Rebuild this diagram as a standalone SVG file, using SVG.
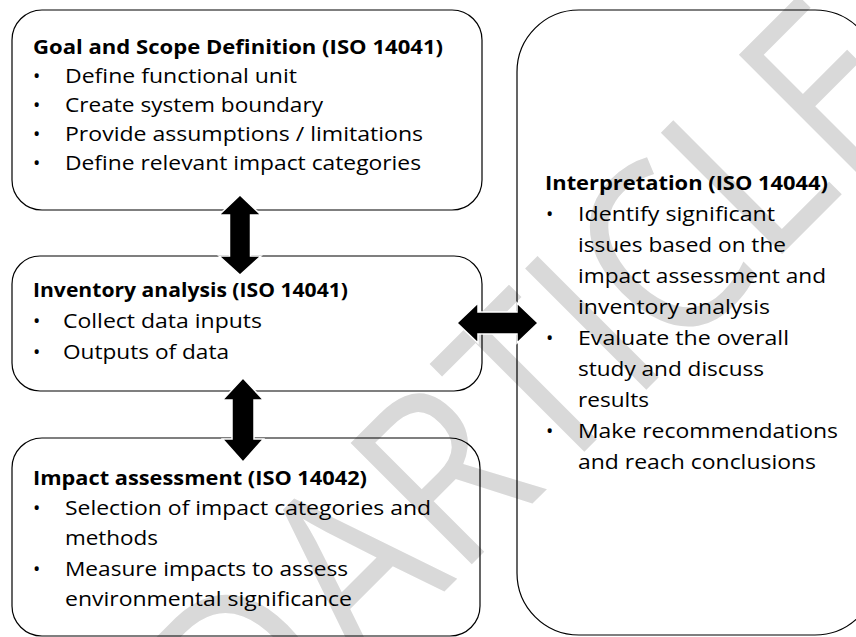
<svg xmlns="http://www.w3.org/2000/svg" width="856" height="637" viewBox="0 0 856 637">
<style>
.box{fill:none;stroke:#000;stroke-width:1.2}
.t{font-family:"Open Sans","Noto Sans",sans-serif;font-size:19.5px;fill:#000}
.b{font-weight:bold}
.arr{fill:#000;stroke:#fff;stroke-width:1.5}
.wm{font-family:"Open Sans","Noto Sans",sans-serif;font-size:240px;font-weight:500;fill:#d9d9d9;word-spacing:-55px}
</style>
<rect width="856" height="637" fill="#fff"/>
<g id="watermark">
<text class="wm" transform="translate(250,786) rotate(-45) scale(0.88,1)">D ARTICLE</text>
</g>
<g id="goal">
<rect class="box" x="12" y="10" width="470" height="200" rx="30"/>
<text class="t b" x="33" y="54" textLength="410" lengthAdjust="spacingAndGlyphs">Goal and Scope Definition (ISO 14041)</text>
<text class="t" x="33" y="83">•</text><text class="t" x="65" y="83" textLength="232" lengthAdjust="spacingAndGlyphs">Define functional unit</text>
<text class="t" x="33" y="112">•</text><text class="t" x="65" y="112" textLength="258" lengthAdjust="spacingAndGlyphs">Create system boundary</text>
<text class="t" x="33" y="141">•</text><text class="t" x="65" y="141" textLength="358" lengthAdjust="spacingAndGlyphs">Provide assumptions / limitations</text>
<text class="t" x="33" y="170">•</text><text class="t" x="65" y="170" textLength="356" lengthAdjust="spacingAndGlyphs">Define relevant impact categories</text>
</g>
<g id="inventory">
<rect class="box" x="12" y="256" width="470" height="135" rx="28"/>
<text class="t b" x="33" y="297" textLength="315" lengthAdjust="spacingAndGlyphs">Inventory analysis (ISO 14041)</text>
<text class="t" x="33" y="328">•</text><text class="t" x="63" y="328" textLength="199" lengthAdjust="spacingAndGlyphs">Collect data inputs</text>
<text class="t" x="33" y="359">•</text><text class="t" x="63" y="359" textLength="166" lengthAdjust="spacingAndGlyphs">Outputs of data</text>
</g>
<g id="impact">
<rect class="box" x="12" y="438" width="468" height="198" rx="30"/>
<text class="t b" x="33" y="485" textLength="334" lengthAdjust="spacingAndGlyphs">Impact assessment (ISO 14042)</text>
<text class="t" x="33" y="515">•</text><text class="t" x="65" y="515" textLength="366" lengthAdjust="spacingAndGlyphs">Selection of impact categories and</text>
<text class="t" x="65" y="545" textLength="93" lengthAdjust="spacingAndGlyphs">methods</text>
<text class="t" x="33" y="576">•</text><text class="t" x="65" y="576" textLength="283" lengthAdjust="spacingAndGlyphs">Measure impacts to assess</text>
<text class="t" x="65" y="606" textLength="287" lengthAdjust="spacingAndGlyphs">environmental significance</text>
</g>
<g id="interpretation">
<rect class="box" x="517" y="10" width="360" height="625" rx="62"/>
<text class="t b" x="545" y="190" textLength="283" lengthAdjust="spacingAndGlyphs">Interpretation (ISO 14044)</text>
<text class="t" x="546" y="221">•</text><text class="t" x="578" y="221" textLength="197" lengthAdjust="spacingAndGlyphs">Identify significant</text>
<text class="t" x="578" y="252" textLength="208" lengthAdjust="spacingAndGlyphs">issues based on the</text>
<text class="t" x="578" y="283" textLength="248" lengthAdjust="spacingAndGlyphs">impact assessment and</text>
<text class="t" x="578" y="314" textLength="192" lengthAdjust="spacingAndGlyphs">inventory analysis</text>
<text class="t" x="546" y="345">•</text><text class="t" x="578" y="345" textLength="211" lengthAdjust="spacingAndGlyphs">Evaluate the overall</text>
<text class="t" x="578" y="376" textLength="186" lengthAdjust="spacingAndGlyphs">study and discuss</text>
<text class="t" x="578" y="407" textLength="71" lengthAdjust="spacingAndGlyphs">results</text>
<text class="t" x="546" y="438">•</text><text class="t" x="578" y="438" textLength="260" lengthAdjust="spacingAndGlyphs">Make recommendations</text>
<text class="t" x="578" y="469" textLength="238" lengthAdjust="spacingAndGlyphs">and reach conclusions</text>
</g>
<g id="connectors">
<polygon class="arr" points="240,195 261,215 250.5,215 250.5,256 261,256 240,275 219,256 229.5,256 229.5,215 219,215"/>
<polygon class="arr" points="243,378 263.5,400 254,400 254,439 263.5,439 243,462 222.5,439 232,439 232,400 222.5,400"/>
<polygon class="arr" points="457,323 478,303 478,312 517,312 517,303 538,323 517,343 517,334 478,334 478,343"/>
</g>
</svg>
